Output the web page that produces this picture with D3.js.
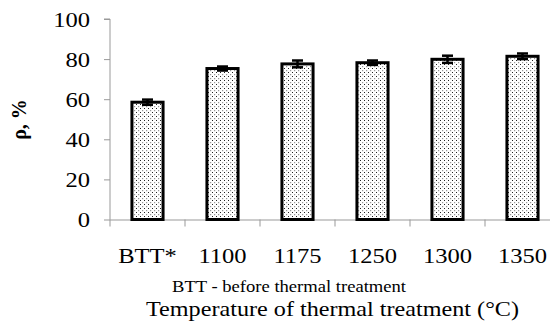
<!DOCTYPE html>
<html><head><meta charset="utf-8">
<script src="https://cdn.jsdelivr.net/npm/d3@7"></script>
<style>body{margin:0;background:#fff}svg{display:block}
text{font-family:'Liberation Serif','Times New Roman',serif !important;}</style>
</head><body>
<script>
const categories = ["BTT*", "1100", "1175", "1250", "1300", "1350"];
const values = [58.5, 75.3, 77.6, 78.2, 79.9, 81.4];
const errors = [1.3, 1.0, 1.7, 1.1, 1.8, 1.4];
const yTicks = [0, 20, 40, 60, 80, 100];

const W = 550, H = 330;
const SX = 1.17; // horizontal stretch of the reference text
const svg = d3.select("body").append("svg").attr("width", W).attr("height", H);
const defs = svg.append("defs");
const pat = defs.append("pattern").attr("id", "dots").attr("patternUnits", "userSpaceOnUse")
  .attr("width", 4).attr("height", 4);
pat.append("rect").attr("width", 4).attr("height", 4).attr("fill", "#fff");
pat.append("rect").attr("x", 0).attr("y", 0).attr("width", 1).attr("height", 1).attr("fill", "#222");
pat.append("rect").attr("x", 2).attr("y", 2).attr("width", 1.2).attr("height", 1.2).attr("fill", "#999");

const x = d3.scaleBand().domain(categories).range([110, 560]).paddingInner(0.585).paddingOuter(0.2925);
const y = d3.scaleLinear().domain([0, 100]).range([219.5, 19]);

// Y axis
const yAxis = svg.append("g").attr("transform", "translate(110,0)")
  .call(d3.axisLeft(y).tickValues(yTicks).tickSize(6).tickPadding(14));
yAxis.attr("font-family", null);
yAxis.select(".domain").attr("stroke", "#999").attr("d", `M-6,${y(100)}H0V${y(0)}`);
yAxis.selectAll(".tick line").attr("stroke", "#999");
yAxis.selectAll(".tick text").style("font-size", "21px").attr("fill", "#000").attr("dy", "0.34em")
  .attr("x", -20 / SX).attr("transform", `scale(${SX},1)`);

// X axis
const xAxis = svg.append("g").attr("transform", `translate(0,${y(0)})`)
  .call(d3.axisBottom(x).tickSize(0).tickPadding(28.6));
xAxis.attr("font-family", null);
xAxis.select(".domain").attr("stroke", "#999").attr("d", `M110,0.5H560`);
xAxis.selectAll(".tick text").style("font-size", "21px").attr("fill", "#000")
  .attr("transform", `scale(${SX},1)`);
// band boundary ticks
svg.append("g").selectAll("line").data(categories.slice(1)).join("line")
  .attr("x1", d => x(d) - x.step() * 0.2925).attr("x2", d => x(d) - x.step() * 0.2925)
  .attr("y1", y(0)).attr("y2", y(0) + 7).attr("stroke", "#999");
svg.append("line").attr("x1", 110).attr("x2", 110).attr("y1", y(0)).attr("y2", y(0) + 7).attr("stroke", "#999");

// Bars
svg.append("g").selectAll("rect").data(categories).join("rect")
  .attr("x", d => x(d)).attr("width", x.bandwidth())
  .attr("y", (d, i) => y(values[i])).attr("height", (d, i) => y(0) - y(values[i]))
  .attr("fill", "url(#dots)").attr("stroke", "#000").attr("stroke-width", 3);

// Error bars
const eb = svg.append("g");
categories.forEach((c, i) => {
  const cx = x(c) + x.bandwidth() / 2;
  const top = y(values[i] + errors[i]), bot = y(values[i] - errors[i]);
  eb.append("line").attr("x1", cx).attr("x2", cx).attr("y1", top).attr("y2", bot)
    .attr("stroke", "#000").attr("stroke-width", 2.5);
  [top, bot].forEach(v => eb.append("line").attr("x1", cx - 5.5).attr("x2", cx + 5.5)
    .attr("y1", v).attr("y2", v).attr("stroke", "#000").attr("stroke-width", 2.5));
});

// Texts
svg.append("text").attr("x", 172).attr("y", 291.5)
  .attr("textLength", 234).attr("lengthAdjust", "spacingAndGlyphs")
  .style("font-size", "16px").text("BTT - before thermal treatment");
svg.append("text").attr("x", 146).attr("y", 315.7)
  .attr("textLength", 373).attr("lengthAdjust", "spacingAndGlyphs")
  .style("font-size", "21px").text("Temperature of thermal treatment (°C)");
svg.append("text").attr("transform", "translate(26,119.5) rotate(-90)").attr("text-anchor", "middle")
  .style("font-size", "20px").attr("font-weight", "bold").text("ρ, %");
</script>
</body></html>
